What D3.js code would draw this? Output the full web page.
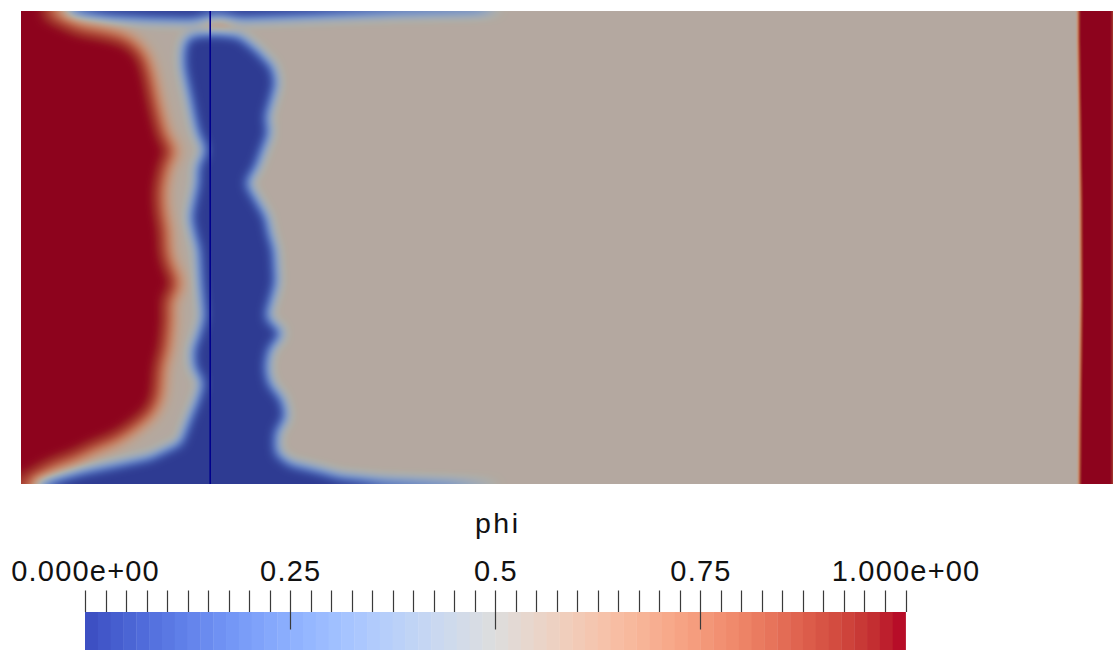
<!DOCTYPE html>
<html>
<head>
<meta charset="utf-8">
<script src="https://cdn.jsdelivr.net/npm/d3@7"></script>
<style>
  html, body { margin: 0; padding: 0; background: #ffffff; }
  svg { display: block; }
</style>
</head>
<body>
<script>
// ---- Domain of the slice (model units) ----
const domainX = [0, 23.1];
const domainY = [0, 10];

// Scalar level of the bulk phase filling the channel
const phiBulk = 0.53;

// Region outlines, [x, y] in model units
// phi = 1 pocket on the left wall
const phiOnePocket = [
  [0, 10], [0.57, 10], [0.87, 9.85], [1.25, 9.68], [1.78, 9.58], [2.20, 9.47],
  [2.47, 9.28], [2.66, 9.03], [2.77, 8.65], [2.88, 8.12], [2.98, 7.70], [3.07, 7.38],
  [3.19, 7.17], [3.32, 7.02], [3.15, 6.85], [3.09, 6.64], [3.00, 6.22], [3.02, 5.79],
  [3.11, 5.33], [3.11, 4.95], [3.19, 4.63], [3.36, 4.31], [3.32, 4.06], [3.15, 3.89],
  [3.19, 3.57], [3.15, 3.15], [3.11, 2.83], [3.00, 2.47], [2.98, 2.09], [2.94, 1.78],
  [2.77, 1.46], [2.52, 1.25], [2.30, 1.08], [1.99, 0.89], [1.56, 0.72], [1.14, 0.51],
  [0.72, 0.36], [0.40, 0.19], [0.19, 0.06], [0.06, 0], [0, 0]
];
// small phi = 1 droplet near the top wall
const phiOneDroplet = [
  [3.78, 9.77], [4.10, 9.86], [4.52, 9.80], [4.38, 9.65], [3.95, 9.63]
];
// phi = 1 layer on the right wall
const phiOneWall = [
  [22.35, 10], [23.1, 10], [23.1, 0], [22.37, 0], [22.38, 1.36],
  [22.41, 3.89], [22.40, 6.0], [22.37, 8.1], [22.35, 9.37]
];
// phi = 0 column with its foot along the bottom wall
const phiZeroColumn = [
  [3.51, 9.45], [3.78, 9.53], [4.14, 9.58], [4.63, 9.47], [4.99, 9.18], [5.33, 8.82],
  [5.41, 8.48], [5.31, 8.12], [5.20, 7.76], [5.26, 7.42], [5.12, 7.06], [4.99, 6.70],
  [4.78, 6.36], [4.99, 6.00], [5.20, 5.64], [5.26, 5.31], [5.37, 4.95], [5.41, 4.25],
  [5.20, 3.53], [5.54, 3.19], [5.26, 2.83], [5.20, 2.47], [5.26, 2.14], [5.54, 1.78],
  [5.62, 1.42], [5.41, 1.08], [5.41, 0.66], [5.69, 0.44], [6.26, 0.30], [6.74, 0.17],
  [7.65, 0.08], [9.07, 0.02], [10.13, 0], [0.30, 0], [0.61, 0.08], [1.31, 0.27],
  [2.03, 0.42], [2.73, 0.57], [3.36, 0.87], [3.57, 1.42], [3.72, 1.78], [3.83, 2.14],
  [3.64, 2.47], [3.62, 2.83], [3.74, 3.15], [3.85, 3.53], [3.78, 4.25], [3.74, 4.95],
  [3.64, 5.31], [3.57, 5.64], [3.64, 6.00], [3.72, 6.36], [3.72, 6.70], [3.89, 7.06],
  [3.72, 7.42], [3.64, 7.76], [3.57, 8.12], [3.49, 8.48], [3.42, 8.82], [3.42, 9.18]
];
// thin phi = 0 film along the top wall
const phiZeroFilm = [
  [0.93, 10], [10.13, 10], [9.49, 9.97], [8.01, 9.94], [6.53, 9.89], [5.26, 9.84],
  [4.42, 9.81], [3.57, 9.79], [2.73, 9.81], [1.88, 9.85], [1.25, 9.92]
];

// Probe line position
const probeLineX = 4.0;

// ---- Colour legend ----
const legendTitle = "phi";
const legendRange = [0, 1];
const legendTickValues = [0, 0.25, 0.5, 0.75, 1];
const legendTickLabels = ["0.000e+00", "0.25", "0.5", "0.75", "1.000e+00"];
const legendMinorStep = 0.025;
const legendBands = 64;

// Cool to Warm colour map
const coolWarm = [
  [59,76,192],[68,90,204],[77,104,215],[87,117,225],[98,130,234],[108,142,241],
  [119,154,247],[130,165,251],[141,176,254],[152,185,255],[163,194,255],[174,201,253],
  [184,208,249],[194,213,244],[204,217,238],[213,219,230],[221,221,221],[229,216,209],
  [236,211,197],[241,204,185],[245,196,173],[247,187,160],[247,177,148],[247,166,135],
  [244,154,123],[241,141,111],[236,127,99],[229,112,88],[222,96,77],[213,80,66],
  [203,62,56],[192,40,47],[180,4,38]
];

const color = d3.scaleLinear()
  .domain(coolWarm.map((_, i) => legendRange[0] + (legendRange[1] - legendRange[0]) * i / (coolWarm.length - 1)))
  .range(coolWarm.map(c => `rgb(${c[0]},${c[1]},${c[2]})`))
  .interpolate(d3.interpolateRgb)
  .clamp(true);

// ---- Layout ----
const width = 1113, height = 650;
const field = { left: 21, top: 11, right: 1113.6, bottom: 484 };
const shade = [0.785, 0.78, 0.76]; // diffuse lighting on the slice

const svg = d3.select("body").append("svg")
  .attr("width", width).attr("height", height);

const x = d3.scaleLinear().domain(domainX).range([field.left, field.right]);
const y = d3.scaleLinear().domain(domainY).range([field.bottom, field.top]);

// ---- Rasterise the scalar field ----
const W = Math.round(field.right - field.left);
const H = Math.round(field.bottom - field.top);
const lx = d3.scaleLinear().domain(domainX).range([0, field.right - field.left]);
const ly = d3.scaleLinear().domain(domainY).range([H, 0]);

function mask(polys, radius) {
  const c = document.createElement("canvas");
  c.width = W; c.height = H;
  const ctx = c.getContext("2d");
  ctx.fillStyle = "#fff";
  const line = d3.line().x(d => lx(d[0])).y(d => ly(d[1])).context(ctx);
  polys.forEach(p => { ctx.beginPath(); line(p); ctx.closePath(); ctx.fill(); });
  const px = ctx.getImageData(0, 0, W, H).data;
  const a = new Float32Array(W * H);
  for (let i = 0; i < a.length; i++) a[i] = px[i * 4 + 3] / 255;
  for (let k = 0; k < 3; k++) boxBlur(a, W, H, radius);
  return a;
}

function boxBlur(a, w, h, r) {
  if (r <= 0) return;
  const t = new Float32Array(a.length);
  const n = 2 * r + 1;
  for (let j = 0; j < h; j++) {
    const row = j * w;
    let s = 0;
    for (let i = -r; i <= r; i++) s += a[row + Math.min(w - 1, Math.max(0, i))];
    for (let i = 0; i < w; i++) {
      t[row + i] = s / n;
      s += a[row + Math.min(w - 1, i + r + 1)] - a[row + Math.max(0, i - r)];
    }
  }
  for (let i = 0; i < w; i++) {
    let s = 0;
    for (let j = -r; j <= r; j++) s += t[Math.min(h - 1, Math.max(0, j)) * w + i];
    for (let j = 0; j < h; j++) {
      a[j * w + i] = s / n;
      s += t[Math.min(h - 1, j + r + 1) * w + i] - t[Math.max(0, j - r) * w + i];
    }
  }
}

const onePocket = mask([phiOnePocket, phiOneDroplet], 7);
const oneWall = mask([phiOneWall], 1);
const zero = mask([phiZeroColumn, phiZeroFilm], 5);

// lit colour lookup
const lutN = 1024;
const lut = d3.range(lutN).map(i => {
  const c = d3.rgb(color(i / (lutN - 1)));
  return [c.r * shade[0], c.g * shade[1], c.b * shade[2]];
});

const canvas = document.createElement("canvas");
canvas.width = W; canvas.height = H;
const cctx = canvas.getContext("2d");
const img = cctx.createImageData(W, H);
for (let i = 0; i < W * H; i++) {
  const one = Math.max(onePocket[i], oneWall[i]);
  let phi = phiBulk + (1 - phiBulk) * one - phiBulk * zero[i];
  phi = Math.max(0, Math.min(1, phi));
  const c = lut[Math.round(phi * (lutN - 1))];
  img.data[i * 4] = c[0];
  img.data[i * 4 + 1] = c[1];
  img.data[i * 4 + 2] = c[2];
  img.data[i * 4 + 3] = 255;
}
cctx.putImageData(img, 0, 0);

svg.append("image")
  .attr("x", field.left).attr("y", field.top)
  .attr("width", W).attr("height", H)
  .attr("preserveAspectRatio", "none")
  .attr("href", canvas.toDataURL());

// probe line
svg.append("line")
  .attr("x1", x(probeLineX)).attr("x2", x(probeLineX))
  .attr("y1", y(domainY[1])).attr("y2", y(domainY[0]))
  .attr("stroke", "#00008c").attr("stroke-width", 1.6);

// ---- Colour legend ----
const bar = { left: 85, right: 905.5, top: 612, bottom: 650 };
const cb = d3.scaleLinear().domain(legendRange).range([bar.left, bar.right]);

svg.append("g").selectAll("rect")
  .data(d3.range(legendBands))
  .join("rect")
  .attr("x", i => cb(i / legendBands))
  .attr("y", bar.top)
  .attr("width", i => cb((i + 1) / legendBands) - cb(i / legendBands) + 0.4)
  .attr("height", bar.bottom - bar.top)
  .attr("fill", i => color((i + 0.5) / legendBands));

const minor = d3.range(0, Math.round((legendRange[1] - legendRange[0]) / legendMinorStep) + 1)
  .map(i => legendRange[0] + i * legendMinorStep);
const isMajorInner = v => legendTickValues.some(t => Math.abs(t - v) < 1e-9) && v > legendRange[0] && v < legendRange[1];

svg.append("g").selectAll("line")
  .data(minor)
  .join("line")
  .attr("x1", d => Math.round(cb(d)) + 0.5).attr("x2", d => Math.round(cb(d)) + 0.5)
  .attr("y1", 590.5)
  .attr("y2", d => isMajorInner(d) ? 629.5 : bar.top)
  .attr("stroke", "#3a3a3a").attr("stroke-width", 1.2);

svg.append("g").selectAll("text")
  .data(legendTickValues)
  .join("text")
  .attr("x", d => cb(d) + 0.6)
  .attr("y", 580.5)
  .attr("text-anchor", "middle")
  .attr("font-family", "'Liberation Sans', Arial, sans-serif")
  .attr("font-size", 29)
  .attr("letter-spacing", 1.2)
  .attr("fill", "#111")
  .text((d, i) => legendTickLabels[i]);

svg.append("text")
  .attr("x", cb(0.5) + 2.5)
  .attr("y", 533)
  .attr("text-anchor", "middle")
  .attr("font-family", "'Liberation Sans', Arial, sans-serif")
  .attr("font-size", 28.5)
  .attr("letter-spacing", 2.5)
  .attr("fill", "#111")
  .text(legendTitle);
</script>
</body>
</html>
